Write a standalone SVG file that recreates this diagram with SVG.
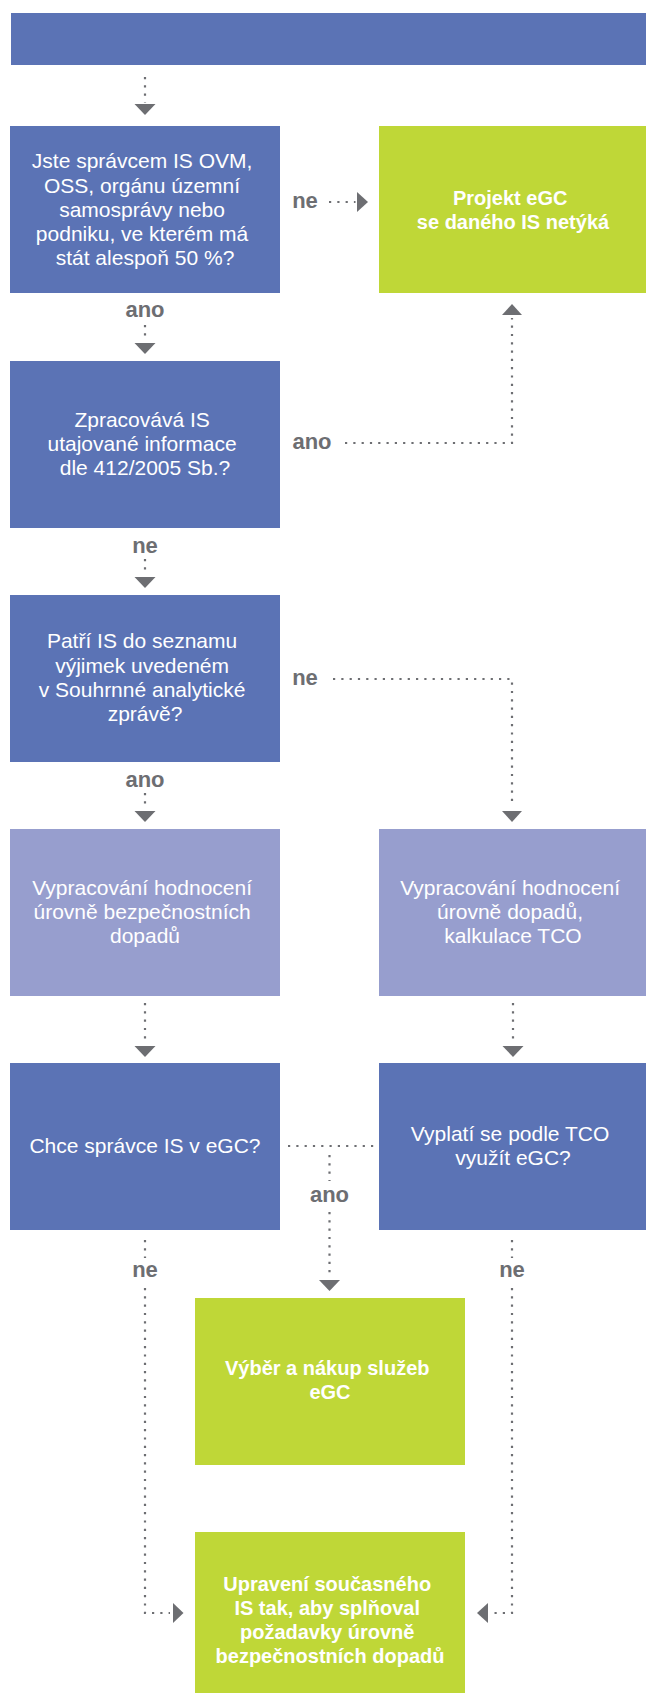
<svg xmlns="http://www.w3.org/2000/svg" width="646" height="1693" viewBox="0 0 646 1693">
  <style>
    .q { fill: #5b73b5; }
    .w { fill: #979ece; }
    .g { fill: #bfd737; }
    .t { font-family: "Liberation Sans", Arial, sans-serif; font-size: 21px; fill: #ffffff; text-anchor: middle; }
    .tb { font-family: "Liberation Sans", Arial, sans-serif; font-size: 20px; font-weight: bold; fill: #ffffff; text-anchor: middle; }
    .lbl { font-family: "Liberation Sans", Arial, sans-serif; font-size: 22px; font-weight: bold; fill: #6d6e72; text-anchor: middle; }
    .dot { fill: none; stroke: #6d6e72; stroke-width: 2.2; stroke-dasharray: 2.2 6.1; }
    .head { fill: #6d6e72; }
  </style>

  <!-- header band -->
  <g id="header">
    <rect class="q" x="11" y="13" width="635" height="52"/>
  </g>

  <g id="q-spravce">
    <rect class="q" x="10" y="126" width="270" height="167"/>
    <text class="t">
      <tspan x="145" y="168">Jste správcem IS OVM,</tspan>
      <tspan x="145" y="192.5">OSS, orgánu územní</tspan>
      <tspan x="145" y="216.5">samosprávy nebo</tspan>
      <tspan x="145" y="240.5">podniku, ve kterém má</tspan>
      <tspan x="145" y="265">stát alespoň 50 %?</tspan>
    </text>
  </g>

  <g id="end-netyka">
    <rect class="g" x="379" y="126" width="270" height="167"/>
    <text class="tb">
      <tspan x="513" y="204.5">Projekt eGC</tspan>
      <tspan x="513" y="228.5">se daného IS netýká</tspan>
    </text>
  </g>

  <g id="q-utajovane">
    <rect class="q" x="10" y="361" width="270" height="167"/>
    <text class="t">
      <tspan x="145" y="427">Zpracovává IS</tspan>
      <tspan x="145" y="451">utajované informace</tspan>
      <tspan x="145" y="475">dle 412/2005 Sb.?</tspan>
    </text>
  </g>

  <g id="q-vyjimky">
    <rect class="q" x="10" y="595" width="270" height="167"/>
    <text class="t">
      <tspan x="145" y="648">Patří IS do seznamu</tspan>
      <tspan x="145" y="672.5">výjimek uvedeném</tspan>
      <tspan x="145" y="696.5">v Souhrnné analytické</tspan>
      <tspan x="145" y="720.5">zprávě?</tspan>
    </text>
  </g>

  <g id="step-bezpecnost">
    <rect class="w" x="10" y="829" width="270" height="167"/>
    <text class="t">
      <tspan x="145" y="895">Vypracování hodnocení</tspan>
      <tspan x="145" y="919">úrovně bezpečnostních</tspan>
      <tspan x="145" y="943">dopadů</tspan>
    </text>
  </g>

  <g id="step-tco">
    <rect class="w" x="379" y="829" width="270" height="167"/>
    <text class="t">
      <tspan x="513" y="895">Vypracování hodnocení</tspan>
      <tspan x="513" y="919">úrovně dopadů,</tspan>
      <tspan x="513" y="943">kalkulace TCO</tspan>
    </text>
  </g>

  <g id="q-chce">
    <rect class="q" x="10" y="1063" width="270" height="167"/>
    <text class="t">
      <tspan x="145" y="1153">Chce správce IS v eGC?</tspan>
    </text>
  </g>

  <g id="q-vyplati">
    <rect class="q" x="379" y="1063" width="270" height="167"/>
    <text class="t">
      <tspan x="513" y="1141">Vyplatí se podle TCO</tspan>
      <tspan x="513" y="1165">využít eGC?</tspan>
    </text>
  </g>

  <g id="end-nakup">
    <rect class="g" x="195" y="1298" width="270" height="167"/>
    <text class="tb">
      <tspan x="330" y="1375">Výběr a nákup služeb</tspan>
      <tspan x="330" y="1399">eGC</tspan>
    </text>
  </g>

  <g id="end-upraveni">
    <rect class="g" x="195" y="1532" width="270" height="167"/>
    <text class="tb">
      <tspan x="330" y="1591">Upravení současného</tspan>
      <tspan x="330" y="1615">IS tak, aby splňoval</tspan>
      <tspan x="330" y="1639">požadavky úrovně</tspan>
      <tspan x="330" y="1663">bezpečnostních dopadů</tspan>
    </text>
  </g>

  <!-- dotted connectors, arrowheads and branch labels -->
  <g id="connectors">
    <path class="dot" d="M145,77 V102.5"/>
    <polygon class="head" points="134.5,104 155.5,104 145,115"/>

    <text class="lbl" x="305" y="208">ne</text>
    <path class="dot" d="M329,202 H355.5"/>
    <polygon class="head" points="357,192 357,212 368,202"/>

    <text class="lbl" x="145" y="317">ano</text>
    <path class="dot" d="M145,325 V337"/>
    <polygon class="head" points="134.5,343 155.5,343 145,354"/>

    <text class="lbl" x="312" y="449">ano</text>
    <path class="dot" d="M345,443 H512 V318"/>
    <polygon class="head" points="502,315 522,315 512,304"/>

    <text class="lbl" x="145" y="553">ne</text>
    <path class="dot" d="M145,559 V571"/>
    <polygon class="head" points="134.5,577 155.5,577 145,588"/>

    <text class="lbl" x="305" y="685">ne</text>
    <path class="dot" d="M333,679 H512 V803"/>
    <polygon class="head" points="502,811 522,811 512,822"/>

    <text class="lbl" x="145" y="787">ano</text>
    <path class="dot" d="M145,793 V805"/>
    <polygon class="head" points="134.5,811 155.5,811 145,822"/>

    <path class="dot" d="M145,1003 V1043"/>
    <polygon class="head" points="134.5,1046 155.5,1046 145,1057"/>
    <path class="dot" d="M513,1003 V1043"/>
    <polygon class="head" points="502.5,1046 523.5,1046 513,1057"/>

    <path class="dot" d="M288,1146 H374"/>
    <path class="dot" d="M329.5,1155 V1181"/>
    <text class="lbl" x="329.5" y="1202">ano</text>
    <path class="dot" d="M329.5,1212 V1278"/>
    <polygon class="head" points="319,1280 340,1280 329.5,1291"/>

    <path class="dot" d="M145,1240 V1258"/>
    <text class="lbl" x="145" y="1277">ne</text>
    <path class="dot" d="M145,1288 V1613 H170"/>
    <polygon class="head" points="173,1603 173,1623 183.5,1613"/>

    <path class="dot" d="M512,1240 V1258"/>
    <text class="lbl" x="512" y="1277">ne</text>
    <path class="dot" d="M512,1288 V1613 H491"/>
    <polygon class="head" points="488,1603 488,1623 477,1613"/>
  </g>
</svg>
